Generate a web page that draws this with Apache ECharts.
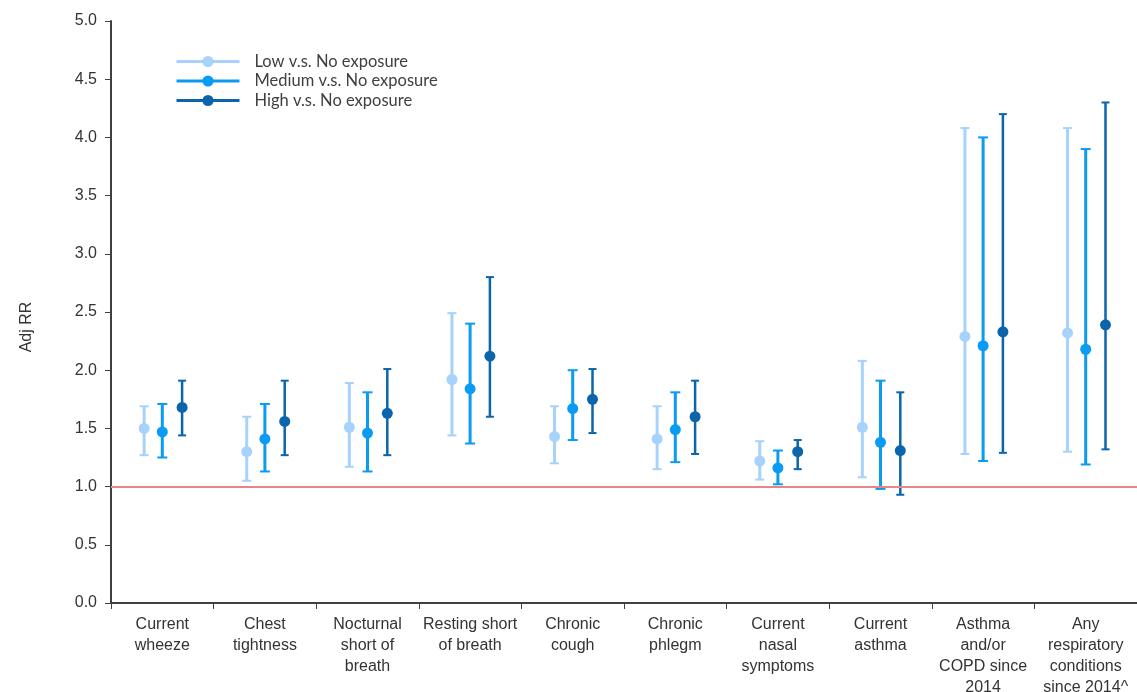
<!DOCTYPE html>
<html>
<head>
<meta charset="utf-8">
<script src="https://cdn.jsdelivr.net/npm/echarts@6/dist/echarts.min.js"></script>
<style>
html,body{margin:0;padding:0;background:#fff;}
#chart{width:1137px;height:692px;}
</style>
</head>
<body>
<div id="chart"></div>
<script>
const categories = [
  "Current\nwheeze", "Chest\ntightness", "Nocturnal\nshort of\nbreath", "Resting short\nof breath",
  "Chronic\ncough", "Chronic\nphlegm", "Current\nnasal\nsymptoms", "Current\nasthma",
  "Asthma\nand/or\nCOPD since\n2014", "Any\nrespiratory\nconditions\nsince 2014^"
];
const seriesNames = ["Low v.s. No exposure", "Medium v.s. No exposure", "High v.s. No exposure"];

const lowRR  = [1.50, 1.30, 1.51, 1.92, 1.43, 1.41, 1.22, 1.51, 2.29, 2.32];
const lowLo  = [1.27, 1.05, 1.17, 1.44, 1.20, 1.15, 1.06, 1.08, 1.28, 1.30];
const lowHi  = [1.69, 1.60, 1.89, 2.49, 1.69, 1.69, 1.39, 2.08, 4.08, 4.08];

const medRR  = [1.47, 1.41, 1.46, 1.84, 1.67, 1.49, 1.16, 1.38, 2.21, 2.18];
const medLo  = [1.25, 1.13, 1.13, 1.37, 1.40, 1.21, 1.02, 0.98, 1.22, 1.19];
const medHi  = [1.71, 1.71, 1.81, 2.40, 2.00, 1.81, 1.31, 1.91, 4.00, 3.90];

const highRR = [1.68, 1.56, 1.63, 2.12, 1.75, 1.60, 1.30, 1.31, 2.33, 2.39];
const highLo = [1.44, 1.27, 1.27, 1.60, 1.46, 1.28, 1.15, 0.93, 1.29, 1.32];
const highHi = [1.91, 1.91, 2.01, 2.80, 2.01, 1.91, 1.40, 1.81, 4.20, 4.30];

const yTicks = [0, 0.5, 1, 1.5, 2, 2.5, 3, 3.5, 4, 4.5, 5];
const refValue = 1.0;

const colors = ["#a6d2fb", "#0a9bf2", "#0a65ad"];
const offsets = [-0.177, 0, 0.193];
const capW = [9, 10, 8];
const barW = [3, 3, 2.5];

const groups = [
  {rr: lowRR, lo: lowLo, hi: lowHi},
  {rr: medRR, lo: medLo, hi: medHi},
  {rr: highRR, lo: highLo, hi: highHi}
];

const chart = echarts.init(document.getElementById('chart'), null, {renderer: 'canvas'});

const series = [];
groups.forEach((g, k) => {
  series.push({
    name: seriesNames[k],
    type: 'line',
    xAxisIndex: 1,
    yAxisIndex: 0,
    symbol: 'circle',
    symbolSize: 11,
    lineStyle: {opacity: 0, width: 3, color: colors[k]},
    itemStyle: {color: colors[k]},
    z: 5,
    silent: true,
    data: g.rr.map((v, i) => [i + 0.5 + offsets[k], v])
  });
  series.push({
    name: seriesNames[k],
    type: 'custom',
    xAxisIndex: 1,
    yAxisIndex: 0,
    z: 3,
    silent: true,
    renderItem: function (params, api) {
      const x = api.value(0);
      const top = api.coord([x, api.value(2)]);
      const bot = api.coord([x, api.value(1)]);
      const w = capW[k] / 2;
      const st = {stroke: colors[k], lineWidth: barW[k]};
      const cst = {stroke: colors[k], lineWidth: 2};
      return {
        type: 'group',
        children: [
          {type: 'line', shape: {x1: top[0], y1: top[1], x2: bot[0], y2: bot[1]}, style: st},
          {type: 'line', shape: {x1: top[0] - w, y1: top[1], x2: top[0] + w, y2: top[1]}, style: cst},
          {type: 'line', shape: {x1: bot[0] - w, y1: bot[1], x2: bot[0] + w, y2: bot[1]}, style: cst}
        ]
      };
    },
    data: g.rr.map((v, i) => [i + 0.5 + offsets[k], g.lo[i], g.hi[i]])
  });
});

series.push({
  type: 'line',
  xAxisIndex: 1,
  yAxisIndex: 0,
  data: [],
  silent: true,
  z: 2,
  markLine: {
    silent: true,
    symbol: 'none',
    label: {show: false},
    lineStyle: {color: '#e98585', width: 2, type: 'solid'},
    data: [{yAxis: refValue}]
  }
});

chart.setOption({
  animation: false,
  backgroundColor: '#ffffff',
  grid: {left: 111, right: 0, top: 21, bottom: 89, containLabel: false, outerBoundsMode: 'none'},
  legend: {
    orient: 'vertical',
    left: 170,
    top: 48,
    itemWidth: 63,
    itemHeight: 14,
    itemGap: 2.5,
    textStyle: {fontFamily: 'Lato', fontSize: 16.5, lineHeight: 14, color: '#404040', padding: [0, 0, 0, 10]},
    data: seriesNames.map((n, k) => ({
      name: n,
      itemStyle: {color: colors[k]},
      lineStyle: {color: colors[k], width: 3, opacity: 1}
    }))
  },
  xAxis: [
    {
      type: 'category',
      data: categories,
      boundaryGap: true,
      axisLine: {lineStyle: {color: '#404040', width: 2}},
      axisTick: {show: true, length: 6, lineStyle: {color: '#404040', width: 1}, alignWithLabel: false},
      axisLabel: {
        interval: 0,
        margin: 11,
        fontFamily: 'Liberation Sans',
        fontSize: 16,
        lineHeight: 21,
        color: '#333333',
        align: 'center'
      },
      splitLine: {show: false}
    },
    {
      type: 'value',
      min: 0,
      max: categories.length,
      show: false
    }
  ],
  yAxis: {
    type: 'value',
    min: 0,
    max: 5,
    interval: 0.5,
    name: 'Adj RR',
    nameLocation: 'middle',
    nameGap: 76,
    nameRotate: 90,
    nameTextStyle: {fontFamily: 'Liberation Sans', fontSize: 16, color: '#333333', padding: [0, 30, 0, 0]},
    axisLine: {show: true, lineStyle: {color: '#404040', width: 2}},
    axisTick: {show: true, length: 6, lineStyle: {color: '#404040'}},
    axisLabel: {
      margin: 14,
      fontFamily: 'Liberation Sans',
      fontSize: 16,
      color: '#333333',
      formatter: v => yTicks.includes(v) ? v.toFixed(1) : ''
    },
    splitLine: {show: false}
  },
  series: series
});
</script>
</body>
</html>
